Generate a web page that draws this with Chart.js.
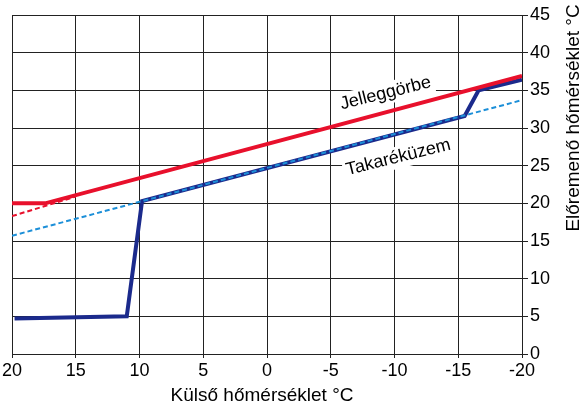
<!DOCTYPE html>
<html>
<head>
<meta charset="utf-8">
<script src="https://cdn.jsdelivr.net/npm/chart.js@4.4.1/dist/chart.umd.min.js"></script>
<style>
  html, body { margin: 0; padding: 0; background: #fff; }
  #wrap { width: 587px; height: 405px; position: relative; }
</style>
</head>
<body>
<div id="wrap"><canvas id="chart"></canvas></div>
<script>
// Külső hőmérséklet (x) -> Előremenő hőmérséklet (y)
const xTicks = [20, 15, 10, 5, 0, -5, -10, -15, -20];
const yTicks = [0, 5, 10, 15, 20, 25, 30, 35, 40, 45];

// Jelleggörbe (thick red)
const curveX = [20, 17.4, -20];
const curveY = [20, 20, 36.9];

// thin red dashed extension
const curveDashX = [20, 15];
const curveDashY = [18.3, 20.9];

// Takaréküzem base (light blue dashed)
const ecoX = [20, -20];
const ecoY = [15.7, 33.7];

// actual setpoint (thick dark blue)
const setX = [19.8, 11, 9.8, -15.5, -16.6, -20];
const setY = [4.7, 5.0, 20.3, 31.6, 35.0, 36.4];

const curveLabels = [
  { text: 'Jelleggörbe', x: -9.3, y: 34.6, angle: -14 },
  { text: 'Takaréküzem', x: -10.3, y: 26.1, angle: -14 }
];

const FONT = '"Liberation Sans", Arial, sans-serif';

function pts(xs, ys) {
  return xs.map((x, i) => ({ x: x, y: ys[i] }));
}

const textPlugin = {
  id: 'textPlugin',
  beforeDatasetsDraw(chart) {
    const ctx = chart.ctx;
    const xs = chart.scales.x, ys = chart.scales.y;
    ctx.save();
    ctx.font = '18px ' + FONT;
    ctx.textAlign = 'center';
    ctx.textBaseline = 'middle';
    curveLabels.forEach(l => {
      const px = xs.getPixelForValue(l.x);
      const py = ys.getPixelForValue(l.y);
      const w = ctx.measureText(l.text).width;
      ctx.save();
      ctx.translate(px, py);
      ctx.rotate(l.angle * Math.PI / 180);
      ctx.fillStyle = '#fff';
      ctx.fillRect(-w / 2 - 3, -11, w + 6, 22);
      ctx.fillStyle = '#000';
      ctx.fillText(l.text, 0, 0);
      ctx.restore();
    });
    ctx.restore();
  },
  afterDraw(chart) {
    const ctx = chart.ctx;
    ctx.save();
    ctx.font = '19px ' + FONT;
    ctx.fillStyle = '#000';
    ctx.textAlign = 'center';
    ctx.textBaseline = 'middle';
    ctx.fillText('Külső hőmérséklet °C', 262, 396);
    ctx.translate(574, 118);
    ctx.rotate(-Math.PI / 2);
    ctx.fillText('Előremenő hőmérséklet °C', 0, 0);
    ctx.restore();
  }
};

new Chart(document.getElementById('chart'), {
  type: 'scatter',
  data: {
    datasets: [
      {
        label: 'Jelleggörbe',
        data: pts(curveX, curveY),
        showLine: true,
        borderColor: '#e8102c',
        borderWidth: 4,
        pointRadius: 0,
        order: 0
      },
      {
        label: 'dash',
        data: pts(curveDashX, curveDashY),
        showLine: true,
        borderColor: '#e8102c',
        borderWidth: 2,
        borderDash: [5, 3],
        pointRadius: 0,
        order: 1
      },
      {
        label: 'Takaréküzem alap',
        data: pts(ecoX, ecoY),
        showLine: true,
        borderColor: '#1c8fd8',
        borderWidth: 2,
        borderDash: [5, 3],
        pointRadius: 0,
        order: 2
      },
      {
        label: 'Takaréküzem',
        data: pts(setX, setY),
        showLine: true,
        borderColor: '#1b2a8c',
        borderWidth: 4,
        pointRadius: 0,
        order: 3
      }
    ]
  },
  options: {
    responsive: true,
    maintainAspectRatio: false,
    animation: false,
    events: [],
    layout: { padding: { left: 12, top: 15, right: 0, bottom: 0 } },
    plugins: {
      legend: { display: false },
      tooltip: { enabled: false }
    },
    scales: {
      x: {
        type: 'linear',
        reverse: true,
        min: -20,
        max: 20,
        afterBuildTicks: s => { s.ticks = xTicks.map(v => ({ value: v })); },
        afterFit: s => { s.height = 51; },
        grid: { color: '#222', lineWidth: 1, tickLength: 4 },
        border: { color: '#222', width: 1 },
        ticks: {
          color: '#000',
          padding: 2,
          maxRotation: 0,
          font: { family: FONT, size: 18 }
        }
      },
      y: {
        type: 'linear',
        position: 'right',
        min: 0,
        max: 45,
        afterBuildTicks: s => { s.ticks = yTicks.map(v => ({ value: v })); },
        afterFit: s => { s.width = 65; },
        grid: { color: '#222', lineWidth: 1, tickLength: 6 },
        border: { color: '#222', width: 1 },
        ticks: {
          color: '#000',
          padding: 2,
          font: { family: FONT, size: 18 }
        }
      }
    }
  },
  plugins: [textPlugin]
});
</script>
</body>
</html>
